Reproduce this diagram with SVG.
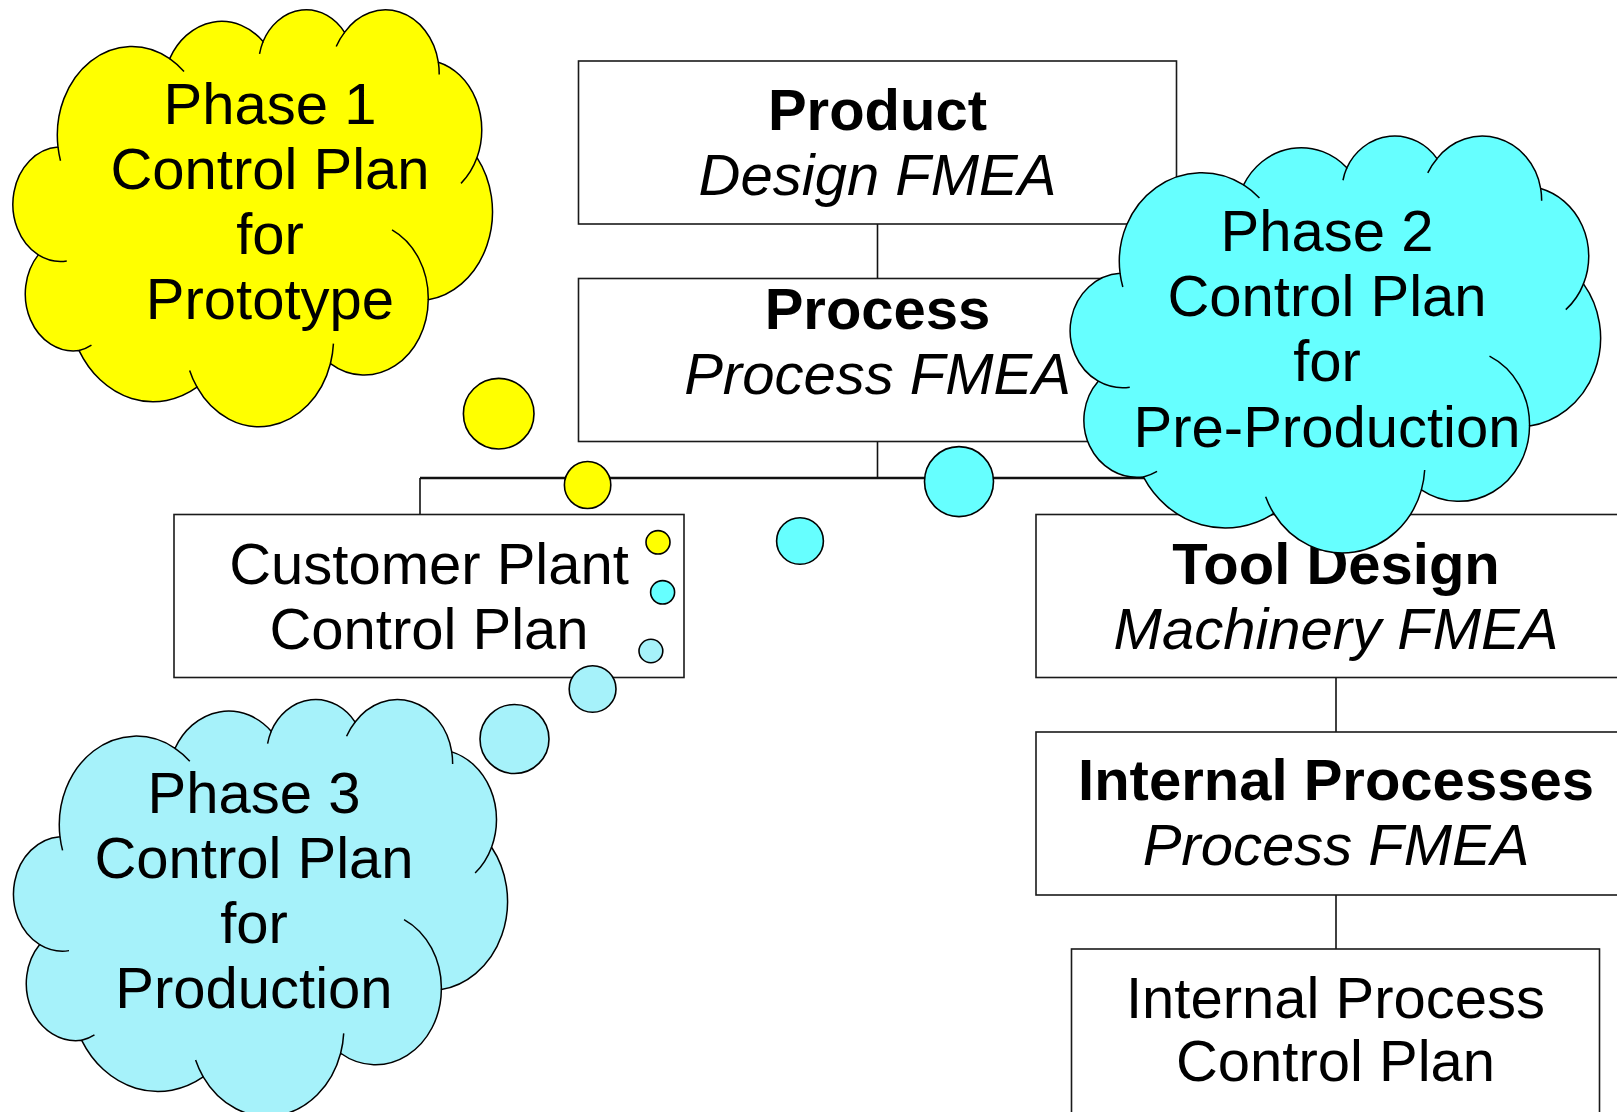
<svg xmlns="http://www.w3.org/2000/svg" xmlns:xlink="http://www.w3.org/1999/xlink" width="1617" height="1112" viewBox="0 0 1617 1112">
<style>
  .box { fill: #ffffff; stroke: #1a1a1a; stroke-width: 1.6; }
  .conn { stroke: #111; stroke-width: 1.6; fill: none; }
  .bus { stroke: #111; stroke-width: 2.6; fill: none; }
  .t { font-family: "Liberation Sans", Arial, sans-serif; font-size: 58px; fill: #000; text-anchor: middle; }
  .b { font-weight: bold; }
  .i { font-style: italic; }
  .cl { stroke: #000; stroke-width: 1.5; vector-effect: non-scaling-stroke; }
  .cln { fill: none; stroke: #000; stroke-width: 1.5; vector-effect: non-scaling-stroke; }
  .bub { stroke: #000; stroke-width: 1.6; }
  .y { fill: #FFFF00; }
  .c { fill: #66FFFF; }
  .lc { fill: #A6F2FA; }
</style>
<defs>
  <path id="cloudOutline" class="cl" d="M 3900 14370 A 6753 9190 0 0 1 14006.6 5203.5 A 5333 7267 0 0 1 22457.5 3433.1 A 4365 5945 0 0 1 29834.4 2481.9 A 4857 6595 0 0 1 38319.6 5577.2 A 5333 7273 0 0 1 41819.8 15460.8 A 6775 9220 0 0 1 37405.8 30204.5 A 5785 7867 0 0 1 28557.6 36814.7 A 6752 9215 0 0 1 16482.2 39266.2 A 7720 10543 0 0 1 5806.7 35472.1 A 4360 5918 0 0 1 2115.3 25550.4 A 4345 5945 0 0 1 3900 14370 Z"/>
  <path id="cloudInner" class="cln" d="M 4693 26177 A 4345 5945 0 0 1 2115.3 25550.4 M 6928 34899 A 4360 5918 0 0 1 5806.7 35472.1 M 16482.2 39266.2 A 6752 9215 0 0 1 15814.2 37525.7 M 28827 34751 A 6752 9215 0 0 1 28557.6 36814.7 M 34129 22954 A 5785 7867 0 0 1 37405.8 30204.5 M 41819.8 15460.8 A 5333 7273 0 0 1 40371.9 18136.9 M 38319.6 5577.2 A 4857 6595 0 0 1 38396 6840.7 M 29078 3952 A 4857 6595 0 0 1 29834.4 2481.9 M 22141 4720 A 4365 5945 0 0 1 22457.5 3433.1 M 14006.6 5203.5 A 6753 9190 0 0 1 15304.9 6550.6 M 4127 15789 A 6753 9190 0 0 1 3900 14370"/>
</defs>

<g id="connectors">
  <line class="conn" x1="877.5" y1="224" x2="877.5" y2="278.5"/>
  <line class="conn" x1="877.5" y1="441.5" x2="877.5" y2="478"/>
  <path class="bus" d="M 420 478 H 1336.5"/>
  <line class="conn" x1="420" y1="478" x2="420" y2="514.5"/>
  <line class="conn" x1="1336.5" y1="478" x2="1336.5" y2="514.5"/>
  <line class="conn" x1="1336" y1="677.5" x2="1336" y2="732"/>
  <line class="conn" x1="1336" y1="895" x2="1336" y2="949"/>
</g>

<g id="product">
  <rect class="box" x="578.5" y="61" width="598" height="163"/>
  <text class="t b" x="877.5" y="130">Product</text>
  <text class="t i" x="877.5" y="195">Design FMEA</text>
</g>

<g id="process">
  <rect class="box" x="578.5" y="278.5" width="598" height="163"/>
  <text class="t b" x="877.5" y="328.5">Process</text>
  <text class="t i" x="877.5" y="394">Process FMEA</text>
</g>

<g id="customer-plant">
  <rect class="box" x="174" y="514.5" width="510" height="163"/>
  <text class="t" x="429" y="583.5">Customer Plant</text>
  <text class="t" x="429" y="648.5">Control Plan</text>
</g>

<g id="tool-design">
  <rect class="box" x="1036" y="514.5" width="599" height="163"/>
  <text class="t b" x="1336" y="584">Tool Design</text>
  <text class="t i" x="1336" y="648.5">Machinery FMEA</text>
</g>

<g id="internal-processes">
  <rect class="box" x="1036" y="732" width="599" height="163"/>
  <text class="t b" x="1336" y="800">Internal Processes</text>
  <text class="t i" x="1336" y="865">Process FMEA</text>
</g>

<g id="internal-process-control-plan">
  <rect class="box" x="1071.5" y="949" width="528" height="175"/>
  <text class="t" x="1335.5" y="1017.5">Internal Process</text>
  <text class="t" x="1335.5" y="1081">Control Plan</text>
</g>

<g id="phase1">
  <ellipse class="bub y" cx="498.7" cy="413.7" rx="35.3" ry="35.3"/>
  <ellipse class="bub y" cx="587.6" cy="485" rx="23.2" ry="23.5"/>
  <ellipse class="bub y" cx="658" cy="542.3" rx="12" ry="11.7"/>
  <g transform="translate(14.9 8.4) scale(0.01105 0.009647)">
    <use xlink:href="#cloudOutline" href="#cloudOutline" class="y"/>
    <use xlink:href="#cloudInner" href="#cloudInner"/>
  </g>
  <text class="t" x="270" y="124">Phase 1</text>
  <text class="t" x="270" y="189">Control Plan</text>
  <text class="t" x="270" y="254">for</text>
  <text class="t" x="270" y="319">Prototype</text>
</g>

<g id="phase2">
  <ellipse class="bub c" cx="959" cy="481.6" rx="34.5" ry="35"/>
  <ellipse class="bub c" cx="800" cy="541" rx="23.4" ry="23.3"/>
  <ellipse class="bub c" cx="662.6" cy="592.3" rx="12" ry="11.7"/>
  <g transform="translate(1072.4 134.7) scale(0.012221 0.009647)">
    <use xlink:href="#cloudOutline" href="#cloudOutline" class="c"/>
    <use xlink:href="#cloudInner" href="#cloudInner"/>
  </g>
  <text class="t" x="1327" y="251">Phase 2</text>
  <text class="t" x="1327" y="316">Control Plan</text>
  <text class="t" x="1327" y="381">for</text>
  <text class="t" x="1327" y="446.5">Pre-Production</text>
</g>

<g id="phase3">
  <ellipse class="bub lc" cx="650.9" cy="651" rx="11.9" ry="11.7"/>
  <ellipse class="bub lc" cx="592.6" cy="689" rx="23.4" ry="23.3"/>
  <ellipse class="bub lc" cx="514.5" cy="739" rx="34.5" ry="34.5"/>
  <g transform="translate(15.6 698.1) scale(0.011382 0.009647)">
    <use xlink:href="#cloudOutline" href="#cloudOutline" class="lc"/>
    <use xlink:href="#cloudInner" href="#cloudInner"/>
  </g>
  <text class="t" x="254" y="812.7">Phase 3</text>
  <text class="t" x="254" y="878">Control Plan</text>
  <text class="t" x="254" y="943">for</text>
  <text class="t" x="254" y="1008">Production</text>
</g>
</svg>
